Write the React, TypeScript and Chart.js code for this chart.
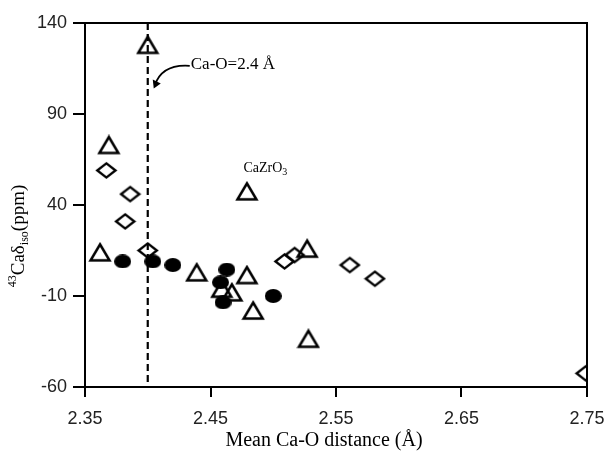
import React, { useEffect, useRef } from "react";
import { Chart, registerables } from "chart.js";

Chart.register(...registerables);

// ---- data ----
const triangleX = [2.4, 2.369, 2.479, 2.362, 2.439, 2.479, 2.527, 2.459, 2.467, 2.484, 2.528];
const triangleY = [128, 73, 47.5, 14, 3, 1.5, 16, -6, -8, -18, -33.5];
const diamondX = [2.367, 2.386, 2.382, 2.4, 2.509, 2.517, 2.561, 2.581, 2.749];
const diamondY = [59, 46, 31, 15, 9, 12.5, 7, -0.5, -52.5];
const circleX = [2.38, 2.404, 2.42, 2.463, 2.458, 2.46, 2.5];
const circleY = [9, 9, 7, 4.5, -2.5, -13.5, -10];
const xTicks = [2.35, 2.45, 2.55, 2.65, 2.75];
const yTicks = [-60, -10, 40, 90, 140];
const refLineX = 2.4;
const refLabel = "Ca-O=2.4 Å";
const xTitle = "Mean Ca-O distance (Å)";

function pts(xs: number[], ys: number[]) {
  return xs.map((x, i) => ({ x, y: ys[i] }));
}

function makeTriangle(w: number, h: number, lw: number) {
  const c = document.createElement("canvas");
  c.width = w + lw * 2;
  c.height = h + lw * 2;
  const ctx = c.getContext("2d")!;
  ctx.lineWidth = lw;
  ctx.strokeStyle = "#000";
  ctx.lineJoin = "miter";
  ctx.beginPath();
  ctx.moveTo(c.width / 2, lw);
  ctx.lineTo(c.width - lw, lw + h);
  ctx.lineTo(lw, lw + h);
  ctx.closePath();
  ctx.stroke();
  return c;
}
function makeDiamond(w: number, h: number, lw: number) {
  const c = document.createElement("canvas");
  c.width = w + lw * 2;
  c.height = h + lw * 2;
  const ctx = c.getContext("2d")!;
  ctx.lineWidth = lw;
  ctx.strokeStyle = "#000";
  ctx.beginPath();
  ctx.moveTo(c.width / 2, lw);
  ctx.lineTo(c.width - lw, c.height / 2);
  ctx.lineTo(c.width / 2, c.height - lw);
  ctx.lineTo(lw, c.height / 2);
  ctx.closePath();
  ctx.stroke();
  return c;
}
function makeEllipse(w: number, h: number) {
  const c = document.createElement("canvas");
  c.width = w;
  c.height = h;
  const ctx = c.getContext("2d")!;
  ctx.fillStyle = "#000";
  ctx.beginPath();
  ctx.ellipse(w / 2, h / 2, w / 2, h / 2, 0, 0, Math.PI * 2);
  ctx.fill();
  return c;
}

const decorPlugin = {
  id: "decor",
  afterDatasetsDraw(chart: any) {
    const { ctx, chartArea: a, scales } = chart;
    const xs = scales.x;
    const ys = scales.y;
    ctx.save();
    // frame top/right
    ctx.strokeStyle = "#000";
    ctx.lineWidth = 2;
    ctx.beginPath();
    ctx.moveTo(a.left, a.top);
    ctx.lineTo(a.right, a.top);
    ctx.lineTo(a.right, a.bottom);
    ctx.stroke();
    // dashed reference line
    const lx = xs.getPixelForValue(refLineX);
    ctx.setLineDash([7, 4]);
    ctx.lineWidth = 2.2;
    ctx.beginPath();
    ctx.moveTo(lx, a.top);
    ctx.lineTo(lx, a.bottom);
    ctx.stroke();
    ctx.setLineDash([]);
    // annotation text + arrow
    const tx = lx + 43;
    const ty = ys.getPixelForValue(117);
    ctx.fillStyle = "#000";
    ctx.font = "17px 'Liberation Serif'";
    ctx.textBaseline = "middle";
    ctx.textAlign = "left";
    ctx.fillText(refLabel, tx, ty);
    const tipX = lx + 6;
    const tipY = ys.getPixelForValue(104);
    ctx.lineWidth = 1.8;
    ctx.beginPath();
    ctx.moveTo(tx - 1, ty + 1);
    ctx.quadraticCurveTo(tipX + 8, ty - 1, tipX + 1, tipY - 3);
    ctx.stroke();
    ctx.beginPath();
    ctx.moveTo(tipX, tipY);
    ctx.lineTo(tipX - 1, tipY - 9);
    ctx.lineTo(tipX + 7, tipY - 5);
    ctx.closePath();
    ctx.fill();
    // CaZrO3 label
    const cx = xs.getPixelForValue(2.479) + 19;
    const cy = ys.getPixelForValue(60);
    ctx.font = "14px 'Liberation Serif'";
    ctx.textAlign = "left";
    const w1 = ctx.measureText("CaZrO").width;
    const start = cx - (w1 + 6) / 2;
    ctx.fillText("CaZrO", start, cy);
    ctx.font = "10px 'Liberation Serif'";
    ctx.fillText("3", start + w1, cy + 4);
    // x title
    ctx.font = "20px 'Liberation Serif'";
    ctx.textAlign = "center";
    ctx.fillText(xTitle, (a.left + a.right) / 2 - 12, 441);
    // y title rotated
    ctx.translate(19, 236);
    ctx.rotate(-Math.PI / 2);
    const parts = [
      { t: "43", f: "12px 'Liberation Serif'", dy: -6 },
      { t: "Caδ", f: "19px 'Liberation Serif'", dy: 0 },
      { t: "iso", f: "12px 'Liberation Serif'", dy: 6 },
      { t: "(ppm)", f: "19px 'Liberation Serif'", dy: 0 },
    ];
    let total = 0;
    for (const p of parts) {
      ctx.font = p.f;
      total += ctx.measureText(p.t).width;
    }
    let px = -total / 2;
    ctx.textAlign = "left";
    for (const p of parts) {
      ctx.font = p.f;
      ctx.fillText(p.t, px, p.dy);
      px += ctx.measureText(p.t).width;
    }
    ctx.restore();
  },
};

export default function App() {
  const ref = useRef<HTMLCanvasElement>(null);
  useEffect(() => {
    const tri = makeTriangle(19, 16, 2.5);
    const dia = makeDiamond(19, 15, 2.4);
    const cir = makeEllipse(17, 14);
    const chart = new Chart(ref.current!, {
      type: "scatter",
      data: {
        datasets: [
          { label: "triangles", data: pts(triangleX, triangleY), pointStyle: tri as any, pointRadius: 10 },
          { label: "diamonds", data: pts(diamondX, diamondY), pointStyle: dia as any, pointRadius: 10 },
          { label: "circles", data: pts(circleX, circleY), pointStyle: cir as any, pointRadius: 9 },
        ],
      },
      options: {
        animation: false,
        responsive: false,
        layout: { padding: { left: 0, top: 23, right: 25, bottom: 0 } },
        plugins: { legend: { display: false }, tooltip: { enabled: false } },
        scales: {
          x: {
            type: "linear",
            min: 2.35,
            max: 2.75,
            afterBuildTicks: (s: any) => {
              s.ticks = xTicks.map((v) => ({ value: v }));
            },
            afterFit: (s: any) => {
              s.height = 72;
              s.paddingLeft = 0;
              s.paddingRight = 0;
            },
            ticks: {
              color: "#222",
              font: { family: "'Liberation Sans'", size: 18 },
              padding: 11,
              maxRotation: 0,
              callback: (v: any) => Number(v).toFixed(2),
            },
            grid: { drawOnChartArea: false, drawTicks: true, tickLength: 10, color: "#000", lineWidth: 2 },
            border: { display: true, color: "#000", width: 2 },
          },
          y: {
            type: "linear",
            min: -60,
            max: 140,
            afterBuildTicks: (s: any) => {
              s.ticks = yTicks.map((v) => ({ value: v }));
            },
            afterFit: (s: any) => {
              s.width = 85;
              s.paddingTop = 0;
              s.paddingBottom = 0;
            },
            ticks: {
              color: "#222",
              font: { family: "'Liberation Sans'", size: 18 },
              padding: 6,
            },
            grid: { drawOnChartArea: false, drawTicks: true, tickLength: 12, color: "#000", lineWidth: 2 },
            border: { display: true, color: "#000", width: 2 },
          },
        },
      },
      plugins: [decorPlugin],
    });
    return () => chart.destroy();
  }, []);
  return (
    <canvas
      ref={ref}
      width={612}
      height={459}
      style={{ position: "absolute", left: 0, top: 0, width: 612, height: 459, background: "#fff" }}
    />
  );
}
